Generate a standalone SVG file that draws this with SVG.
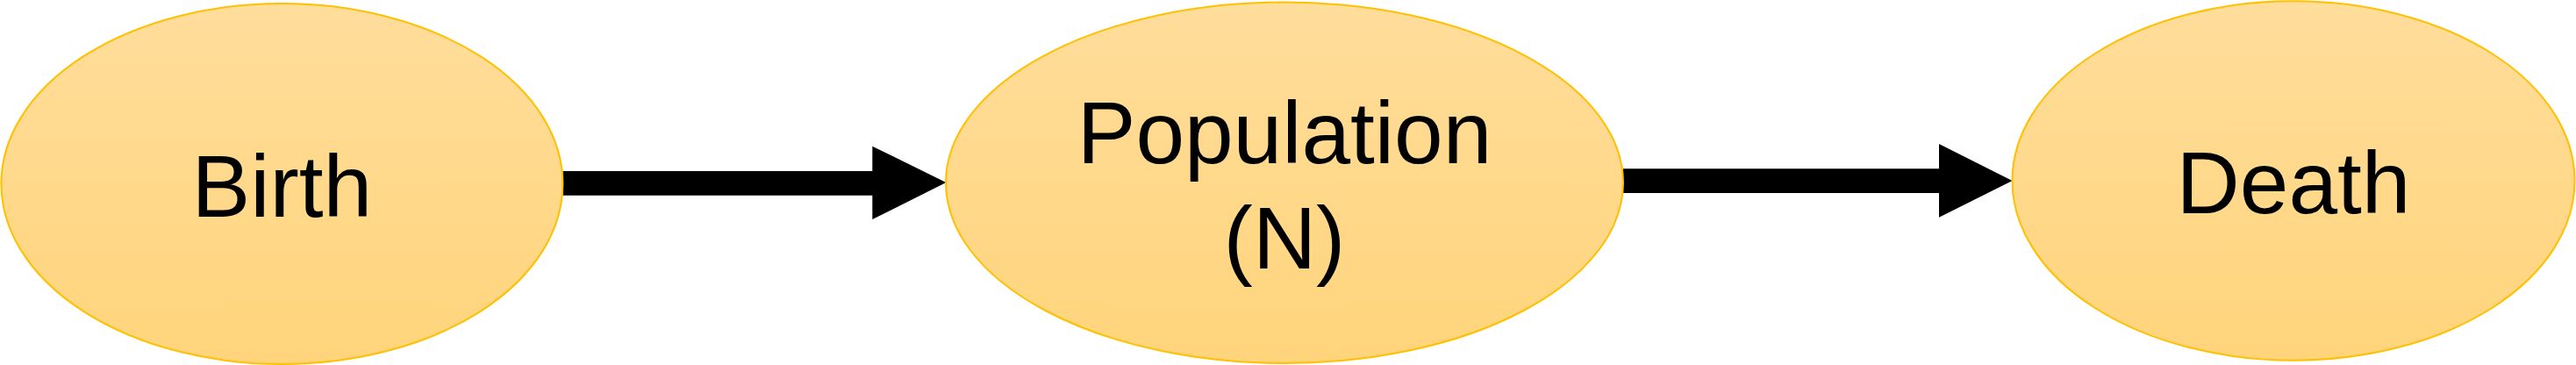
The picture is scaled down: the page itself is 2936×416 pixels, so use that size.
<svg xmlns="http://www.w3.org/2000/svg" width="2936" height="416" viewBox="0 0 2936 416">
<defs>
<linearGradient id="g" x1="0" y1="0" x2="0" y2="1">
<stop offset="0" stop-color="#FFDD9B"/>
<stop offset="1" stop-color="#FFD47B"/>
</linearGradient>
<style>
.n{fill:url(#g);stroke:#FFC000;stroke-width:2}
.t{font-family:"Liberation Sans",Arial,sans-serif;font-size:100px;fill:#000;text-anchor:middle}
.c{fill:#000;stroke:none}
</style>
</defs>
<rect width="2936" height="416" fill="#fff"/>
<g id="connectors">
<path class="c" d="M641.5,195 L994.3,195 L994.3,166.7 L1078.3,208 L994.3,250 L994.3,222.7 L641.5,222.7 Z"/>
<path class="c" d="M1850,192.3 L2210,192.3 L2210,164 L2293.7,206 L2210,247.7 L2210,220 L1850,220 Z"/>
</g>
<g id="birth">
<ellipse class="n" cx="321.4" cy="209.5" rx="320" ry="205.5"/>
<text class="t" x="321.4" y="247">Birth</text>
</g>
<g id="population">
<ellipse class="n" cx="1464" cy="208.3" rx="386" ry="205.7"/>
<text class="t" x="1464" y="185.7">Population</text>
<text class="t" x="1464" y="305.7">(N)</text>
</g>
<g id="death">
<ellipse class="n" cx="2614" cy="206" rx="320.5" ry="204.7"/>
<text class="t" x="2614" y="242.7">Death</text>
</g>
</svg>
